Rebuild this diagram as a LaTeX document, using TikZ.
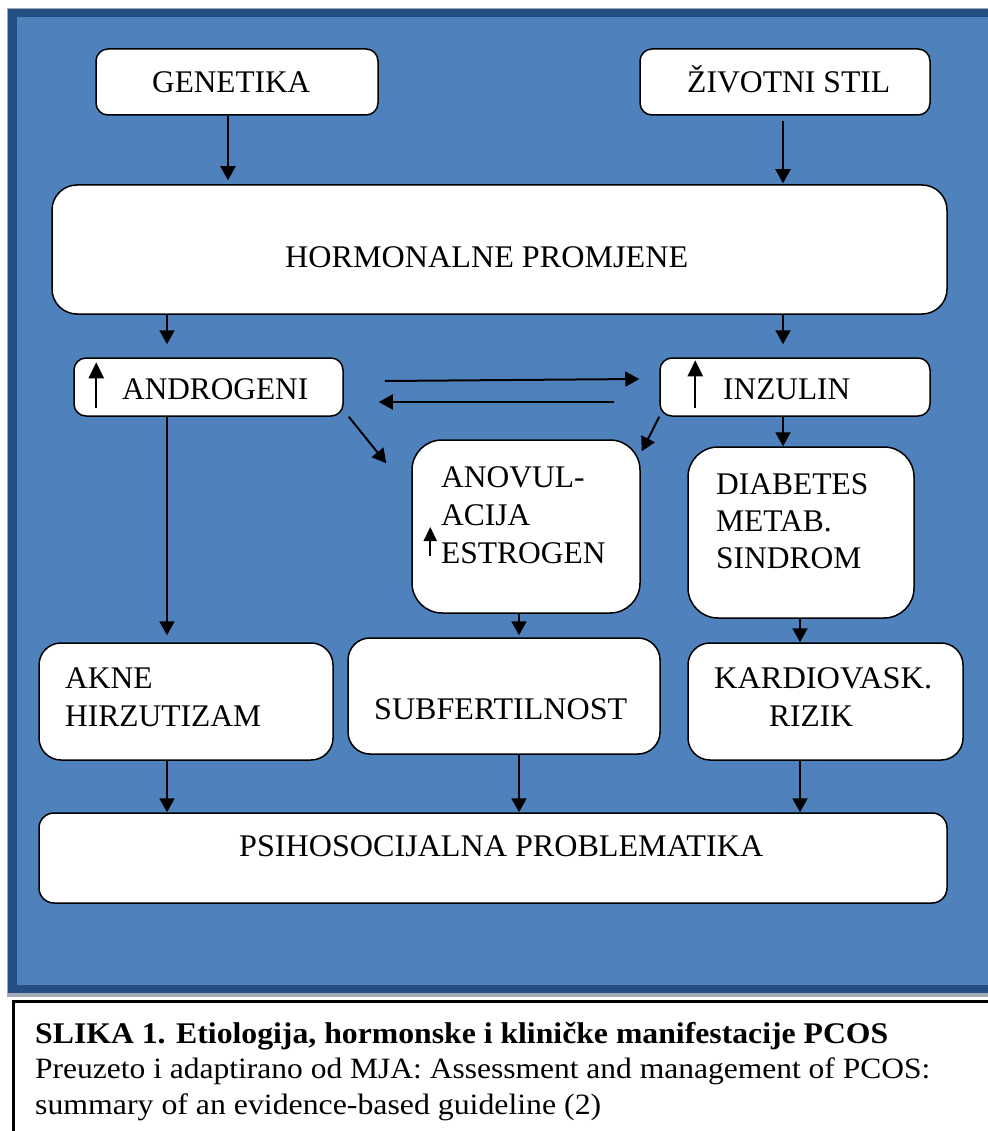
\documentclass[tikz,border=0pt]{standalone}
\usepackage{fontspec}
\usepackage{graphicx}
\setmainfont{Liberation Serif}
\usetikzlibrary{arrows.meta,calc}
\definecolor{panelblue}{HTML}{4F81BD}
\definecolor{paneldark}{HTML}{254F82}
\definecolor{panelshade}{HTML}{A3ABB8}
\tikzset{
  bx/.style={draw=black, fill=white, line width=1.5pt, inner sep=0pt, rounded corners=#1},
  txt/.style={inner sep=0pt, font=\fontsize{31.5}{37.5}\selectfont},
  captxt/.style={inner sep=0pt, anchor=base west},
  arr/.style={line width=2pt, -{Triangle[length=14pt,width=15pt]}},
  uparr/.style={line width=2.2pt, -{Triangle[length=16pt,width=15pt]}},
  smuparr/.style={line width=2.2pt, -{Triangle[length=14pt,width=13pt]}},
}
\begin{document}
\begin{tikzpicture}[x=1pt,y=-1pt]
\useasboundingbox (0,0) rectangle (987,1131);
\fill[white] (0,0) rectangle (987,1131);
% panel
\fill[panelshade] (7,8) rectangle (995,997);
\fill[paneldark] (8,9) rectangle (995,993);
\fill[panelblue] (17,17) rectangle (995,985);
% caption frame
\draw[black, line width=3pt] (13,1140) -- (13,1001.5) -- (995,1001.5);

% boxes
\node[bx=12pt, minimum width=282pt, minimum height=66pt] (gen) at (237,82) {};
\node[bx=12pt, minimum width=290pt, minimum height=66pt] (ziv) at (785,82) {};
\node[bx=25pt, minimum width=895pt, minimum height=129pt] (horm) at (499.5,249.5) {};
\node[bx=12pt, minimum width=269pt, minimum height=58pt] (andr) at (208.5,387) {};
\node[bx=12pt, minimum width=270pt, minimum height=58pt] (inzu) at (795,387) {};
\node[bx=30pt, minimum width=228pt, minimum height=173pt] (anov) at (526,526.5) {};
\node[bx=30pt, minimum width=226pt, minimum height=171pt] (diab) at (801,532.5) {};
\node[bx=22pt, minimum width=294pt, minimum height=117pt] (akne) at (186,701.5) {};
\node[bx=22pt, minimum width=312pt, minimum height=116pt] (subf) at (504,696) {};
\node[bx=22pt, minimum width=275pt, minimum height=117pt] (kard) at (825.5,701.5) {};
\node[bx=15pt, minimum width=908pt, minimum height=90pt] (psih) at (493,858) {};

% texts
\node[txt, anchor=base west] (gen-t) at (152,93) {\resizebox{158pt}{\height}{GENETIKA}};
\node[txt, anchor=base west] (ziv-t) at (687,93) {\resizebox{203pt}{\height}{ŽIVOTNI STIL}};
\node[txt, anchor=base west] (horm-t) at (285,268) {\resizebox{403pt}{\height}{HORMONALNE PROMJENE}};
\node[txt, anchor=base west] (andr-t) at (122,399) {\resizebox{186pt}{\height}{ANDROGENI}};
\node[txt, anchor=base west] (inzu-t) at (723,399) {\resizebox{127pt}{\height}{INZULIN}};
\node[txt, anchor=base west] (anov-t1) at (441,487) {ANOVUL-};
\node[txt, anchor=base west] (anov-t2) at (441,525) {ACIJA};
\node[txt, anchor=base west] (anov-t3) at (441,563) {ESTROGEN};
\node[txt, anchor=base west] (diab-t1) at (716,494) {DIABETES};
\node[txt, anchor=base west] (diab-t2) at (716,531) {METAB.};
\node[txt, anchor=base west] (diab-t3) at (716,568) {SINDROM};
\node[txt, anchor=base west] (akne-t1) at (65,688) {AKNE};
\node[txt, anchor=base west] (akne-t2) at (65,726) {HIRZUTIZAM};
\node[txt, anchor=base west] (subf-t) at (374,719) {\resizebox{253pt}{\height}{SUBFERTILNOST}};
\node[txt, anchor=base west] (kard-t1) at (714,688) {\resizebox{218pt}{\height}{KARDIOVASK.}};
\node[txt, anchor=base west] (kard-t2) at (769,726) {RIZIK};
\node[txt, anchor=base west] (psih-t) at (239,856) {\resizebox{524pt}{\height}{PSIHOSOCIJALNA PROBLEMATIKA}};

% up arrows inside boxes
\draw[uparr] ($(andr.south west)+(23,-9)$) -- ($(andr.north west)+(23,5)$);
\draw[uparr] ($(inzu.south west)+(36,-9)$) -- ($(inzu.north west)+(36,3)$);
\draw[smuparr] ($(anov.west)+(19,29.5)$) -- ($(anov.west)+(19,0.5)$);

% connectors
\draw[arr, shorten >=4pt] ($(gen.south)+(-9,0)$) -- ($(horm.north)+(-271.5,0)$);
\draw[arr, shorten <=5pt, shorten >=1pt] ($(ziv.south)+(-2,0)$) -- ($(horm.north)+(283.5,0)$);
\draw[arr, shorten >=13pt] ($(horm.south)+(-332.5,0)$) -- ($(andr.north)+(-41.5,0)$);
\draw[arr, shorten >=13pt] ($(horm.south)+(283.5,0)$) -- ($(inzu.north)+(-12,0)$);
\draw[arr] ($(andr.east)+(41,-6)$) -- ($(inzu.west)+(-20,-8)$);
\draw[arr] ($(inzu.west)+(-45,15)$) -- ($(andr.east)+(35,15)$);
\draw[arr] ($(andr.south east)+(5,0)$) -- ($(anov.north west)+(-25,24)$);
\draw[arr] ($(inzu.south west)+(0,0)$) -- ($(anov.north east)+(1,12)$);
\draw[arr] ($(andr.south)+(-41.5,0)$) -- ($(akne.north)+(-19,-7)$);
\draw[arr] ($(inzu.south)+(-12,0)$) -- ($(diab.north)+(-18,0)$);
\draw[arr] ($(anov.south)+(-7,0)$) -- ($(subf.north)+(15,-2)$);
\draw[arr] ($(diab.south)+(-1,0)$) -- ($(kard.north)+(-25.5,0)$);
\draw[arr] ($(akne.south)+(-19,0)$) -- ($(psih.north)+(-326,0)$);
\draw[arr] ($(subf.south)+(15,0)$) -- ($(psih.north)+(26,0)$);
\draw[arr] ($(kard.south)+(-25.5,0)$) -- ($(psih.north)+(307,0)$);

% caption
\node[captxt, font=\fontsize{30}{36}\selectfont\bfseries] (cap1) at (35,1043) {\resizebox{853pt}{\height}{SLIKA 1. Etiologija, hormonske i kliničke manifestacije PCOS}};
\node[captxt, font=\fontsize{29.5}{36}\selectfont] (cap2) at (35,1078) {\resizebox{895pt}{\height}{Preuzeto i adaptirano od MJA: Assessment and management of PCOS:}};
\node[captxt, font=\fontsize{29.5}{36}\selectfont] (cap3) at (35,1114) {\resizebox{566pt}{\height}{summary of an evidence-based guideline (2)}};
\end{tikzpicture}
\end{document}
